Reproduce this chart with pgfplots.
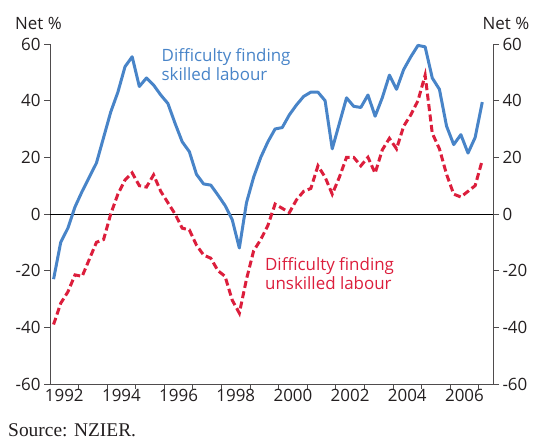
\documentclass[border=0pt]{standalone}
\usepackage{pgfplots}
\pgfplotsset{compat=1.18}
\usepackage{fontspec}
\setmainfont{Open Sans}
\newfontfamily\serifsrc{Liberation Serif}
\definecolor{skblue}{RGB}{72,132,200}
\definecolor{unred}{RGB}{220,30,60}
\definecolor{txt}{RGB}{35,31,32}
\begin{document}
\begin{tikzpicture}[x=1bp,y=1bp]
\useasboundingbox (0,0) rectangle (537,441);
\begin{axis}[
  at={(50bp,57bp)}, anchor=south west,
  width=443bp, height=340bp, scale only axis,
  xmin=1992, xmax=2007.5, ymin=-60, ymax=60,
  axis x line*=bottom, axis y line*=left,
  axis line style={line width=0.8bp, color=txt!80},
  tick align=outside,
  major tick length=6bp, minor tick length=5bp,
  every tick/.style={line width=0.8bp, color=txt!80},
  xtick={1992.5,1994.5,...,2006.5},
  xticklabels={1992,1994,1996,1998,2000,2002,2004,2006},
  major x tick style={draw=none},
  minor xtick={1993,1994,...,2007},
  ytick={-60,-40,...,60},
  /pgf/number format/assume math mode=true,
  tick label style={font=\fontsize{17}{17}\selectfont, text=txt},
  x tick label style={yshift=4bp},
  clip=false,
]
\addplot[black, line width=0.8bp, forget plot] coordinates {(1992,0) (2007.5,0)};
\addplot[skblue, line width=3bp, line join=round] coordinates {
(1992.125,-23) (1992.375,-10) (1992.625,-5) (1992.875,2.5)
(1993.125,8) (1993.375,13) (1993.625,18) (1993.875,27)
(1994.125,36) (1994.375,43) (1994.625,52) (1994.875,55.5)
(1995.125,45) (1995.375,48) (1995.625,45.5) (1995.875,42)
(1996.125,39) (1996.375,32) (1996.625,25.5) (1996.875,22)
(1997.125,14) (1997.375,10.6) (1997.625,10.2) (1997.875,6.7)
(1998.125,3) (1998.375,-2) (1998.625,-12) (1998.875,4)
(1999.125,13) (1999.375,20) (1999.625,25.5) (1999.875,30)
(2000.125,30.5) (2000.375,35) (2000.625,38.5) (2000.875,41.5)
(2001.125,43) (2001.375,43) (2001.625,40) (2001.875,23)
(2002.125,32) (2002.375,41) (2002.625,38) (2002.875,37.6)
(2003.125,42) (2003.375,34.5) (2003.625,41) (2003.875,49)
(2004.125,44) (2004.375,51) (2004.625,55.5) (2004.875,59.5)
(2005.125,59) (2005.375,48) (2005.625,44) (2005.875,31)
(2006.125,24.5) (2006.375,28) (2006.625,21.5) (2006.875,27)
(2007.125,39.5)
};
\addplot[unred, line width=3bp, dash pattern=on 7bp off 3.5bp] coordinates {
(1992.125,-39) (1992.375,-31.5) (1992.625,-27.5) (1992.875,-21.5)
(1993.125,-22) (1993.375,-16) (1993.625,-10) (1993.875,-9)
(1994.125,0) (1994.375,7) (1994.625,12) (1994.875,14.5)
(1995.125,10) (1995.375,9.5) (1995.625,13.8) (1995.875,8)
(1996.125,4) (1996.375,0) (1996.625,-5) (1996.875,-5.6)
(1997.125,-11) (1997.375,-14.5) (1997.625,-15.6) (1997.875,-20)
(1998.125,-22) (1998.375,-30.4) (1998.625,-35) (1998.875,-23)
(1999.125,-13) (1999.375,-9) (1999.625,-4) (1999.875,3.5)
(2000.125,2) (2000.375,0.5) (2000.625,5) (2000.875,8)
(2001.125,9) (2001.375,17) (2001.625,13) (2001.875,7)
(2002.125,13) (2002.375,20) (2002.625,20) (2002.875,17)
(2003.125,20) (2003.375,14.4) (2003.625,22.6) (2003.875,26.7)
(2004.125,23) (2004.375,31) (2004.625,35) (2004.875,40)
(2005.125,49) (2005.375,28.5) (2005.625,23) (2005.875,14)
(2006.125,7) (2006.375,6) (2006.625,8) (2006.875,10)
(2007.125,19)
};
\node[anchor=north west, inner sep=0, align=left, text=skblue, font=\fontsize{17}{19.3}\selectfont] at (axis cs:1995.9,58.6) {Difficulty finding\\skilled labour};
\node[anchor=north west, inner sep=0, align=left, text=unred, font=\fontsize{17}{18.5}\selectfont] at (axis cs:1999.52,-15.4) {Difficulty finding\\unskilled labour};
\end{axis}
\begin{axis}[
  at={(50bp,57bp)}, anchor=south west,
  width=443bp, height=340bp, scale only axis,
  xmin=1992, xmax=2007.5, ymin=-60, ymax=60,
  axis x line=none, axis y line*=right,
  axis line style={line width=0.8bp, color=txt!80},
  tick align=outside,
  major tick length=6bp,
  every tick/.style={line width=0.8bp, color=txt!80},
  ytick={-60,-40,...,60},
  /pgf/number format/assume math mode=true,
  tick label style={font=\fontsize{17}{17}\selectfont, text=txt},
]
\addplot[draw=none] coordinates {(1992,0)};
\end{axis}
\node[anchor=base, inner sep=0, text=txt, font=\fontsize{17}{17}\selectfont] at (38.5,411) {Net \%};
\node[anchor=base, inner sep=0, text=txt, font=\fontsize{17}{17}\selectfont] at (506,411) {Net \%};
\node[anchor=base west, inner sep=0, text=txt, font=\serifsrc\fontsize{19.5}{19.5}\selectfont] at (8,4.5) {Source: NZIER.};
\end{tikzpicture}
\end{document}
